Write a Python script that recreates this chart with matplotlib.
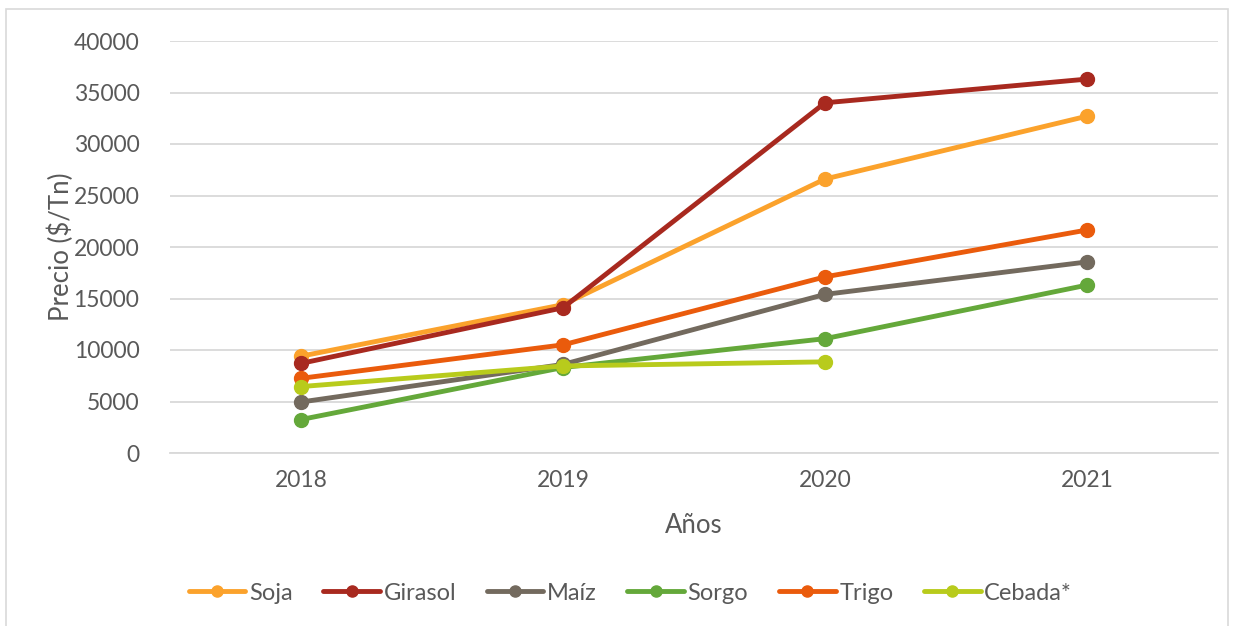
import matplotlib.pyplot as plt
from matplotlib.patches import Rectangle

years = ['2018', '2019', '2020', '2021']
soja = [9400, 14400, 26600, 32700]
girasol = [8700, 14100, 34000, 36300]
maiz = [4950, 8600, 15400, 18550]
sorgo = [3250, 8300, 11100, 16300]
trigo = [7250, 10500, 17100, 21650]
cebada = [6450, 8450, 8850]

series = [
    ('Soja', soja, '#FBA22C'),
    ('Girasol', girasol, '#A8291F'),
    ('Maíz', maiz, '#736A5E'),
    ('Sorgo', sorgo, '#64A83A'),
    ('Trigo', trigo, '#EA5B0C'),
    ('Cebada*', cebada, '#B8CB1C'),
]

plt.rcParams['font.family'] = ['Lato', 'DejaVu Sans']
txt = '#595959'

fig = plt.figure(figsize=(12.36, 6.26), dpi=100)
fig.patches.append(Rectangle((6 / 1236, -0.05), 1222 / 1236, 1.05 - 9 / 626,
                             transform=fig.transFigure, fill=False,
                             edgecolor='#D9D9D9', linewidth=1.2))
ax = fig.add_axes([170 / 1236, 1 - 453 / 626, 1048 / 1236, 412 / 626])

for name, vals, col in series:
    ax.plot(range(len(vals)), vals, color=col, lw=3.5, marker='o',
            markersize=10, label=name, solid_capstyle='round')

ax.set_xlim(-0.5, 3.5)
ax.set_ylim(0, 40000)
ax.set_yticks(range(0, 40001, 5000))
ax.set_xticks(range(4))
ax.set_xticklabels(years)
ax.grid(axis='y', color='#D9D9D9', lw=1.3)
ax.set_axisbelow(True)
for s in ['top', 'right', 'left']:
    ax.spines[s].set_visible(False)
ax.spines['bottom'].set_color('#D9D9D9')
ax.spines['bottom'].set_linewidth(1.3)
ax.tick_params(length=0, labelsize=16.5, colors=txt, pad=12)
ax.tick_params(axis='y', pad=22)
ax.set_ylabel('Precio ($/Tn)', fontsize=18.5, color=txt)
ax.yaxis.set_label_coords(-0.092, 0.5)
ax.set_xlabel('Años', fontsize=18.5, color=txt, labelpad=16)

fig.legend(loc='center', bbox_to_anchor=(0.51, 1 - 593 / 626), ncol=6,
           frameon=False, fontsize=17, labelcolor=txt, handlelength=2.4,
           handletextpad=0.15, columnspacing=1.3, markerscale=0.8)

fig.savefig('out.png', dpi=100)
